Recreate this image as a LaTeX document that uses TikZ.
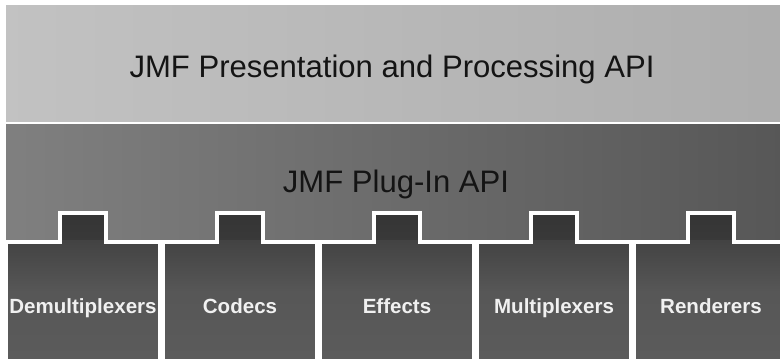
\documentclass[tikz,border=0pt]{standalone}
\usepackage{fontspec}
\setmainfont{Liberation Sans}
\begin{document}
\begin{tikzpicture}[x=0.75pt,y=-0.75pt,
  bandtext/.style={font=\fontsize{23.3}{28}\selectfont, text=black!92, anchor=base, inner sep=0pt},
  boxtext/.style={font=\bfseries\fontsize{15.4}{18}\selectfont, text=white!94!black, anchor=base, inner sep=0pt},
  plugbox/.style={draw=white, line width=3pt, top color=black!78, bottom color=black!64, middle color=black!66},
]
\useasboundingbox (0,0) rectangle (780,359);
\clip (0,0) rectangle (780,359);
\fill[white] (0,0) rectangle (780,359);
% top band
\shade[left color=black!24, right color=black!32] (6,6) rectangle (790,122);
% plug-in band
\shade[left color=black!50, right color=black!66] (6,125) rectangle (790,244);
% boxes with tabs
\foreach \i/\lab/\nm in {0/Demultiplexers/demux,1/Codecs/codecs,2/Effects/effects,3/Multiplexers/mux,4/Renderers/rend}{
  \pgfmathsetmacro{\L}{6+157*\i}
  \pgfmathsetmacro{\R}{160+157*\i}
  \pgfmathsetmacro{\C}{83+157*\i}
  \draw[plugbox] (\L,370) -- (\L,242) -- (\C-23,242) -- (\C-23,213) -- (\C+23,213) -- (\C+23,242) -- (\R,242) -- (\R,370);
  \fill[black!80, opacity=0.6] (\C-21,215) rectangle (\C+21,240);
  \node[boxtext] (\nm) at (\C,313) {\lab};
}
\node[bandtext] (pres) at (392,78) {JMF Presentation and Processing API};
\node[bandtext] (plugin) at (396,193) {JMF Plug-In API};
\end{tikzpicture}
\end{document}
